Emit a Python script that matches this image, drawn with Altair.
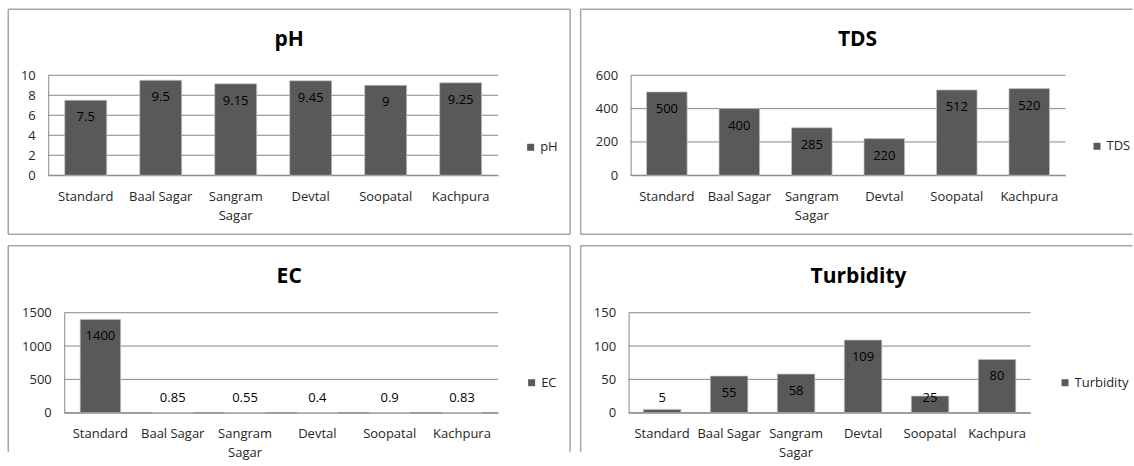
import altair as alt
import pandas as pd

# Sampling sites and measured water-quality parameters
sites = ["Standard", "Baal Sagar", "Sangram Sagar", "Devtal", "Soopatal", "Kachpura"]
ph_values = [7.5, 9.5, 9.15, 9.45, 9.0, 9.25]
tds_values = [500, 400, 285, 220, 512, 520]
ec_values = [1400, 0.85, 0.55, 0.4, 0.9, 0.83]
turbidity_values = [5, 55, 58, 109, 25, 80]

ph_ticks = [0, 2, 4, 6, 8, 10]
tds_ticks = [0, 200, 400, 600]
ec_ticks = [0, 500, 1000, 1500]
turbidity_ticks = [0, 50, 100, 150]

FONT = "Open Sans"
FS = 13
BAR = "#595959"
GRID = "#878787"
FRAME = "#a6a6a6"
TEXT = "#262626"


def one_row():
    return pd.DataFrame({"k": [0]})


def frame_rule(x1, x2, y1, y2):
    return alt.Chart(one_row()).mark_rule(color=FRAME, strokeWidth=1.5).encode(
        x=alt.value(x1), x2=alt.value(x2), y=alt.value(y1), y2=alt.value(y2)
    )


def panel(name, values, ticks, size, plot, sides, title_xy, legend_xy, frame_w=None):
    """One framed chart box; `plot` is the data rectangle (left, top, right, bottom)
    inside a view of `size` (width, height)."""
    w, h = size
    fw = frame_w if frame_w is not None else w
    pl, pt, pr, pb = plot
    top = ticks[-1]
    df = pd.DataFrame({
        "site": sites,
        "value": values,
        "label": [f"{v:g}" for v in values],
        "series": name,
        "zero": 0,
    })
    # labels sit inside the bar top when the bar is tall enough, else just above the axis
    df["inside"] = df["value"] / top >= 0.31
    grid_df = pd.DataFrame({"tick": ticks})

    x_axis = alt.Axis(
        labelAngle=0, ticks=False, labelPadding=15, labelLineHeight=19,
        labelFontSize=FS, labelFont=FONT, labelColor=TEXT,
        domainColor=GRID, domainWidth=1, grid=False, offset=-(h - pb),
        labelExpr="datum.value == 'Sangram Sagar' ? ['Sangram', 'Sagar'] : datum.value",
    )
    y_axis = alt.Axis(
        values=ticks, format="d", ticks=False, labelPadding=13, labelFontSize=FS,
        labelFont=FONT, labelColor=TEXT, domainColor=GRID, domainWidth=1,
        grid=False, labelOverlap=False, offset=-pl,
    )
    x_scale = alt.Scale(range=[pl, pr], paddingInner=0.44, paddingOuter=0.22)
    y_scale = alt.Scale(domain=[0, top], range=[pb, pt], nice=False, zero=True)

    def xe():
        return alt.X("site:N", sort=sites, title=None, scale=x_scale, axis=x_axis)

    def ye(field):
        return alt.Y(f"{field}:Q", title=None, scale=y_scale, axis=y_axis)

    gridlines = alt.Chart(grid_df).mark_rule(color=GRID, strokeWidth=1).encode(
        y=ye("tick"), x=alt.value(pl), x2=alt.value(pr)
    )

    base = alt.Chart(df)
    bars = base.mark_bar(fill=BAR, stroke="#c4c4c4", strokeWidth=0.7).encode(
        x=xe(), y=ye("value"),
        color=alt.Color(
            "series:N", scale=alt.Scale(range=[BAR]),
            legend=alt.Legend(
                title=None, orient="none", legendX=legend_xy[0], legendY=legend_xy[1],
                symbolType="square", symbolSize=49, symbolStrokeWidth=0,
                labelFontSize=FS, labelFont=FONT, labelColor=TEXT,
                labelOffset=3, padding=0,
            ),
        ),
    )
    inside = base.transform_filter("datum.inside").mark_text(
        dy=17, fontSize=FS, font=FONT, color="black"
    ).encode(x=xe(), y=ye("value"), text="label:N")
    outside = base.transform_filter("!datum.inside").mark_text(
        dy=-15, fontSize=FS, font=FONT, color="black"
    ).encode(x=xe(), y=ye("zero"), text="label:N")

    title = alt.Chart(one_row()).mark_text(
        text=name, fontSize=21, fontWeight="bold", font=FONT, color="black",
        align="center", baseline="middle",
    ).encode(x=alt.value(title_xy[0]), y=alt.value(title_xy[1]))

    rules = []
    if "top" in sides:
        rules.append(frame_rule(0, fw, 0, 0))
    if "left" in sides:
        rules.append(frame_rule(0, 0, 0, h))
    if "right" in sides:
        rules.append(frame_rule(fw, fw, 0, h))
    if "bottom" in sides:
        rules.append(frame_rule(0, fw, h, h))

    return alt.layer(*rules, gridlines, bars, inside, outside, title).properties(
        width=w, height=h
    )


ph_chart = panel("pH", ph_values, ph_ticks, (562, 225), (40, 66, 490, 166),
                 ("top", "left", "right", "bottom"), (281, 31), (516, 131.5))
tds_chart = panel("TDS", tds_values, tds_ticks, (540, 225), (50, 66, 485, 166),
                  ("top", "left", "bottom"), (277, 31), (510, 130.5), frame_w=552)
ec_chart = panel("EC", ec_values, ec_ticks, (562, 206), (56, 67, 490, 167),
                 ("top", "left", "right"), (281, 31), (517, 130.5))
turb_chart = panel("Turbidity", turbidity_values, turbidity_ticks, (540, 206), (48, 67, 450, 167),
                   ("top", "left"), (278, 31), (478, 130.5), frame_w=552)

chart = alt.concat(
    ph_chart, tds_chart, ec_chart, turb_chart,
    columns=2, spacing={"row": 9.5, "column": 8.5},
).resolve_scale(
    x="independent", y="independent", color="independent"
).resolve_legend(color="independent").properties(
    padding={"left": 7.25, "top": 8.25, "right": 0, "bottom": 0},
    background="white",
).configure_view(stroke="transparent", strokeWidth=0)

chart.save("out.html", embed_options={"renderer": "svg", "actions": False})
